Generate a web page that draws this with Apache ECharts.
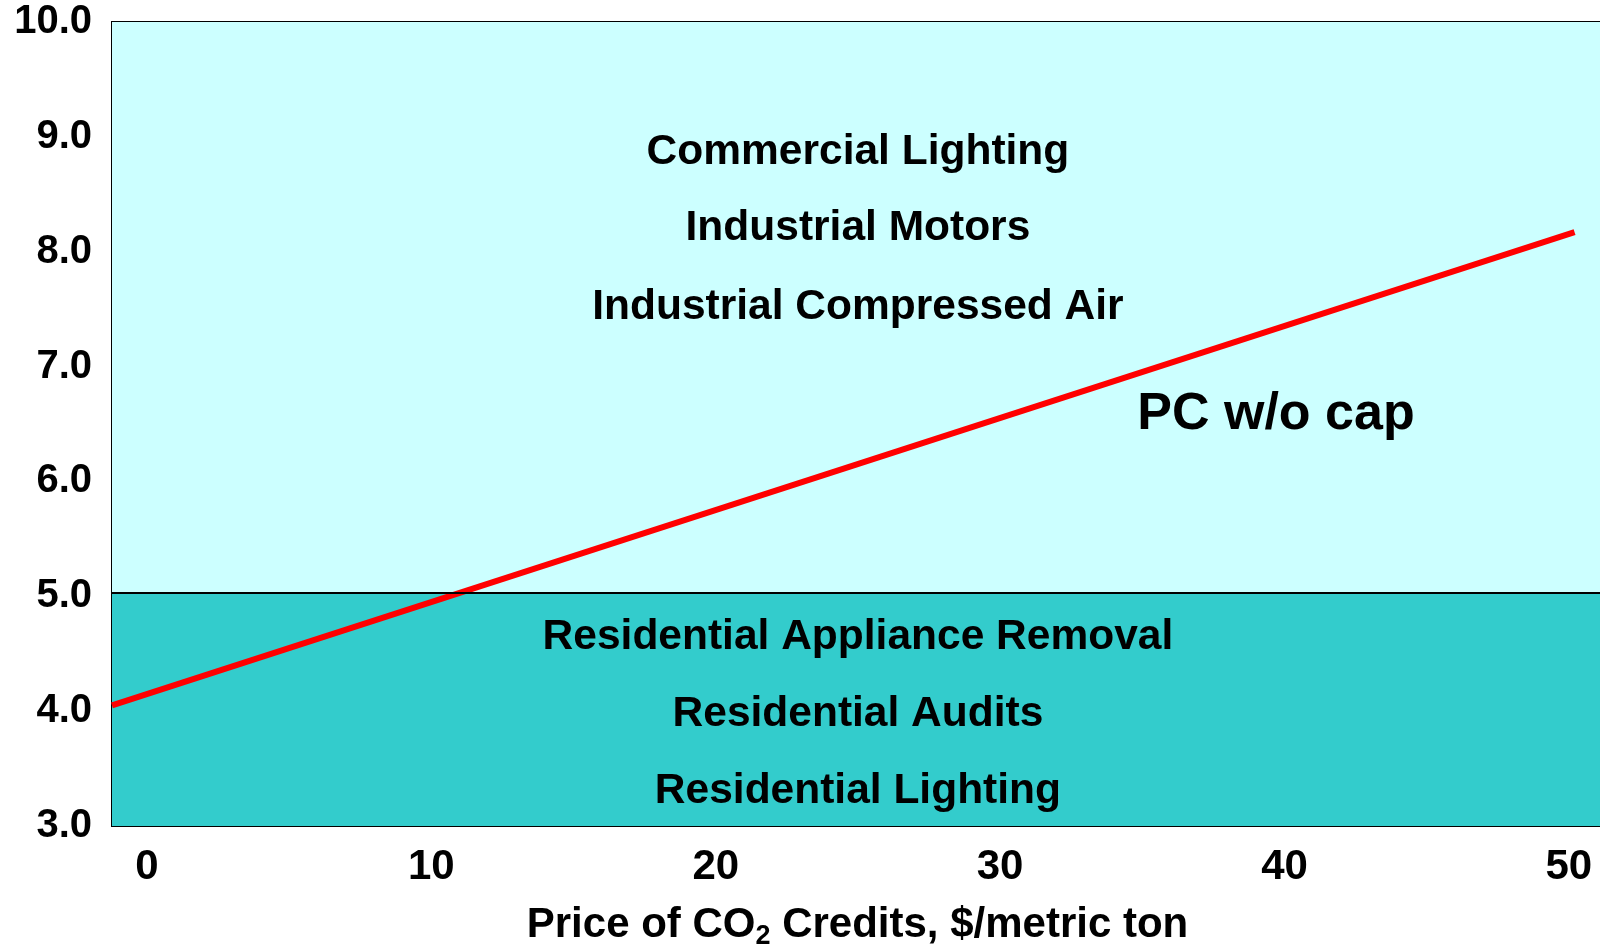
<!DOCTYPE html>
<html>
<head>
<meta charset="utf-8">
<title>PC w/o cap vs CO2 price</title>
<script src="https://cdn.jsdelivr.net/npm/echarts@6/dist/echarts.min.js"></script>
<style>
  html, body { margin: 0; padding: 0; background: #fff; }
  #chart { width: 1600px; height: 947px; }
</style>
</head>
<body>
<div id="chart"></div>
<script>
  // x ticks ($/metric ton) and y ticks
  var xTicks = [0, 10, 20, 30, 40, 50]
  var yTicks = [3, 4, 5, 6, 7, 8, 9, 10]

  // PC w/o cap line, [price, value]
  var pcLine = [[-1.23, 4.05], [50.2, 8.17]]

  // bands: [from, to]
  var upperBand = [5.03, 10]
  var lowerBand = [3, 5.03]

  // text inside the bands: [price, value, text]
  var upperNames = [
    [25, 8.87, 'Commercial Lighting'],
    [25, 8.20, 'Industrial Motors'],
    [25, 7.52, 'Industrial Compressed Air']
  ]
  var lowerNames = [
    [25, 4.64, 'Residential Appliance Removal'],
    [25, 3.97, 'Residential Audits'],
    [25, 3.30, 'Residential Lighting']
  ]
  var lineName = [[39.7, 6.58, 'PC w/o cap']]

  var font = '"Liberation Sans", Arial, sans-serif'

  function textSeries(data, size) {
    return {
      type: 'scatter',
      symbolSize: 0,
      silent: true,
      z: 5,
      data: data,
      itemStyle: { opacity: 1 },
      label: {
        show: true,
        position: 'inside',
        formatter: function(p) { return p.data[2] },
        color: '#000',
        opacity: 1,
        textBorderWidth: 0,
        fontFamily: font,
        fontWeight: 'bold',
        fontSize: size
      }
    }
  }

  var chart = echarts.init(document.getElementById('chart'))
  chart.setOption({
    animation: false,
    grid: {
      left: 112,
      right: -3,
      top: 22,
      bottom: 121,
      outerBoundsMode: 'none',
      containLabel: false,
      show: true,
      borderColor: '#000',
      borderWidth: 2,
      backgroundColor: 'transparent'
    },
    xAxis: {
      type: 'value',
      min: -1.23,
      max: 51.2,
      axisLine: { show: false },
      axisTick: { show: false },
      splitLine: { show: false },
      axisLabel: {
        customValues: xTicks,
        margin: 20,
        color: '#000',
        fontFamily: font,
        fontWeight: 'bold',
        fontSize: 42
      },
      name: 'Price of CO{sub|2} Credits, $/metric ton',
      nameLocation: 'middle',
      nameGap: 75,
      nameTextStyle: {
        color: '#000',
        fontFamily: font,
        fontWeight: 'bold',
        fontSize: 42,
        rich: {
          sub: {
            color: '#000',
            fontFamily: font,
            fontWeight: 'bold',
            fontSize: 27,
            padding: [22, 0, 0, 0]
          }
        }
      }
    },
    yAxis: {
      type: 'value',
      min: yTicks[0],
      max: yTicks[yTicks.length - 1],
      interval: 1,
      axisLine: { show: false },
      axisTick: { show: false },
      splitLine: { show: false },
      axisLabel: {
        margin: 20,
        color: '#000',
        fontFamily: font,
        fontWeight: 'bold',
        fontSize: 40,
        formatter: function(v) { return v.toFixed(1) }
      }
    },
    series: [
      {
        type: 'line',
        data: pcLine,
        symbol: 'none',
        z: 4,
        lineStyle: { color: '#FF0000', width: 6 },
        markArea: {
          silent: true,
          data: [
            [{ yAxis: upperBand[0], itemStyle: { color: '#CCFFFF', opacity: 1 } }, { yAxis: upperBand[1] }],
            [{ yAxis: lowerBand[0], itemStyle: { color: '#33CCCC', opacity: 1 } }, { yAxis: lowerBand[1] }]
          ]
        },
        markLine: {
          silent: true,
          symbol: 'none',
          label: { show: false },
          lineStyle: { color: '#000', width: 2, type: 'solid' },
          data: [{ yAxis: upperBand[0] }]
        }
      },
      textSeries(upperNames, 42.5),
      textSeries(lowerNames, 42.5),
      textSeries(lineName, 52)
    ]
  })
</script>
</body>
</html>
